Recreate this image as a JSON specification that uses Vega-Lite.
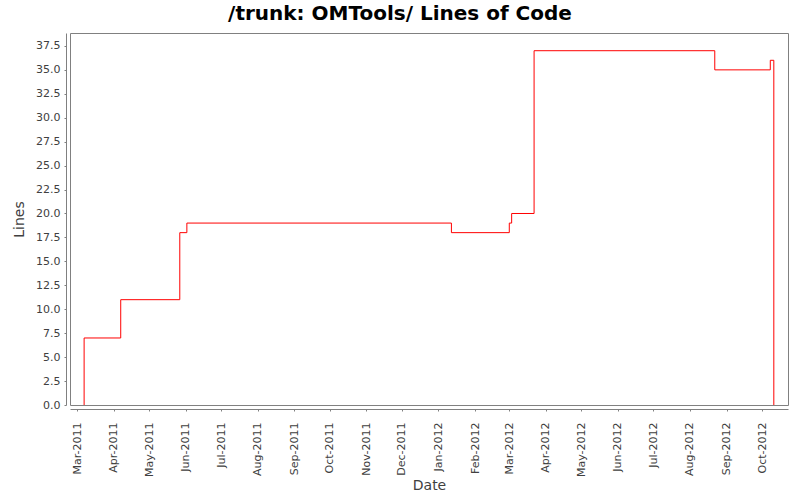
{
  "$schema": "https://vega.github.io/schema/vega-lite/v6.json",
  "width": 718,
  "height": 372,
  "autosize": {"type": "none"},
  "padding": {"left": 70, "top": 33, "right": 12, "bottom": 95},
  "background": "white",
  "config": {
    "view": {"stroke": "#808080", "strokeWidth": 1},
    "font": "DejaVu Sans"
  },
  "title": {
    "text": "/trunk: OMTools/ Lines of Code",
    "fontSize": 20,
    "fontWeight": "bold",
    "color": "#000000",
    "font": "DejaVu Sans",
    "anchor": "middle",
    "frame": "group",
    "dx": -29,
    "offset": 13,
    "dy": 20,
    "baseline": "alphabetic"
  },
  "data": {
    "values": [
      {"seq": 1, "date": "2011-03-07", "lines": 0},
      {"seq": 2, "date": "2011-03-07", "lines": 7},
      {"seq": 3, "date": "2011-04-07", "lines": 11},
      {"seq": 4, "date": "2011-05-27", "lines": 18},
      {"seq": 5, "date": "2011-06-02", "lines": 19},
      {"seq": 6, "date": "2012-01-12", "lines": 18},
      {"seq": 7, "date": "2012-03-01", "lines": 19},
      {"seq": 8, "date": "2012-03-03", "lines": 20},
      {"seq": 9, "date": "2012-03-22", "lines": 37},
      {"seq": 10, "date": "2012-08-22", "lines": 35},
      {"seq": 11, "date": "2012-10-08", "lines": 36},
      {"seq": 12, "date": "2012-10-11", "lines": 0}
    ]
  },
  "mark": {"type": "line", "interpolate": "step-after", "color": "#ff0000", "strokeWidth": 1},
  "encoding": {
    "x": {
      "field": "date",
      "type": "temporal",
      "scale": {
        "type": "utc",
        "domain": [
          {"year": 2011, "month": 2, "date": 23, "hours": 1, "utc": true},
          {"year": 2012, "month": 10, "date": 23, "utc": true}
        ]
      },
      "axis": {
        "title": "Date",
        "format": "%b-%Y",
        "values": [
          {"year": 2011, "month": 3, "date": 1, "utc": true},
          {"year": 2011, "month": 4, "date": 1, "utc": true},
          {"year": 2011, "month": 5, "date": 1, "utc": true},
          {"year": 2011, "month": 6, "date": 1, "utc": true},
          {"year": 2011, "month": 7, "date": 1, "utc": true},
          {"year": 2011, "month": 8, "date": 1, "utc": true},
          {"year": 2011, "month": 9, "date": 1, "utc": true},
          {"year": 2011, "month": 10, "date": 1, "utc": true},
          {"year": 2011, "month": 11, "date": 1, "utc": true},
          {"year": 2011, "month": 12, "date": 1, "utc": true},
          {"year": 2012, "month": 1, "date": 1, "utc": true},
          {"year": 2012, "month": 2, "date": 1, "utc": true},
          {"year": 2012, "month": 3, "date": 1, "utc": true},
          {"year": 2012, "month": 4, "date": 1, "utc": true},
          {"year": 2012, "month": 5, "date": 1, "utc": true},
          {"year": 2012, "month": 6, "date": 1, "utc": true},
          {"year": 2012, "month": 7, "date": 1, "utc": true},
          {"year": 2012, "month": 8, "date": 1, "utc": true},
          {"year": 2012, "month": 9, "date": 1, "utc": true},
          {"year": 2012, "month": 10, "date": 1, "utc": true}
        ],
        "labelAngle": 270,
        "labelAlign": "right",
        "labelBaseline": "middle",
        "labelOverlap": false,
        "labelFlush": false,
        "tickSize": 2,
        "offset": 4,
        "labelPadding": 11,
        "labelFontSize": 11,
        "labelColor": "#404040",
        "tickColor": "#808080",
        "domainColor": "#808080",
        "titleFontSize": 14,
        "titleFontWeight": "normal",
        "titleColor": "#404040",
        "titlePadding": 2,
        "grid": false
      }
    },
    "y": {
      "field": "lines",
      "type": "quantitative",
      "scale": {"domain": [0, 38.85], "nice": false, "zero": true},
      "axis": {
        "title": "Lines",
        "values": [0, 2.5, 5, 7.5, 10, 12.5, 15, 17.5, 20, 22.5, 25, 27.5, 30, 32.5, 35, 37.5],
        "format": ".1f",
        "tickSize": 2,
        "offset": 4,
        "labelPadding": 4,
        "labelFontSize": 11,
        "labelColor": "#404040",
        "tickColor": "#808080",
        "domainColor": "#808080",
        "titleFontSize": 14,
        "titleFontWeight": "normal",
        "titleColor": "#404040",
        "titlePadding": 9,
        "grid": false
      }
    },
    "order": {"field": "seq", "type": "quantitative"}
  }
}
